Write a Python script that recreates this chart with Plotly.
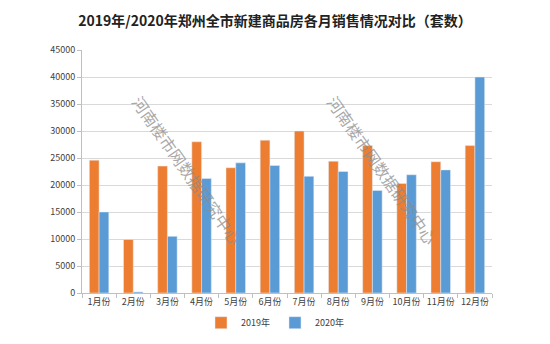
import plotly.graph_objects as go

months = ["1月份", "2月份", "3月份", "4月份", "5月份", "6月份", "7月份", "8月份", "9月份", "10月份", "11月份", "12月份"]
sales_2019 = [24600, 9900, 23500, 28000, 23200, 28300, 30000, 24400, 27300, 20300, 24300, 27300]
sales_2020 = [15000, 200, 10500, 21200, 24100, 23600, 21600, 22500, 19000, 21900, 22800, 40000]
y_ticks = [0, 5000, 10000, 15000, 20000, 25000, 30000, 35000, 40000, 45000]

font_cjk = "Noto Sans CJK SC, Microsoft YaHei, sans-serif"

fig = go.Figure()
fig.add_trace(go.Bar(x=months, y=sales_2019, name="2019年", marker_color="#ED7D31"))
fig.add_trace(go.Bar(x=months, y=sales_2020, name="2020年", marker_color="#5B9BD5"))

watermark = "河南楼市网数据研究中心"
for xp in [0.256, 0.732]:
    fig.add_annotation(text=watermark, xref="paper", yref="paper", x=xp, y=0.505,
                       xanchor="center", yanchor="middle",
                       showarrow=False, textangle=55,
                       font=dict(family=font_cjk, size=16, color="rgba(140,140,140,0.75)"))

fig.update_layout(
    width=550, height=344,
    margin=dict(l=82, r=58, t=50, b=51, autoexpand=False),
    paper_bgcolor="white", plot_bgcolor="white",
    barmode="group", bargap=0.43, bargroupgap=0,
    title=dict(text="2019年/2020年郑州全市新建商品房各月销售情况对比（套数）",
               x=0.5, xanchor="center", y=0.94, yanchor="middle",
               font=dict(family=font_cjk, size=14, color="#222222", weight="bold")),
    font=dict(family=font_cjk, size=9, color="#404040"),
    legend=dict(orientation="h", xref="container", yref="container",
                x=0.5, xanchor="center", y=0.062, yanchor="middle",
                font=dict(size=9, color="#404040"), itemwidth=30, tracegroupgap=0),
    showlegend=True,
)
fig.update_xaxes(showline=True, linecolor="#BFBFBF", linewidth=1, automargin=False,
                 ticks="outside", ticklen=4, tickcolor="#BFBFBF", tickangle=0,
                 tickson="boundaries", showgrid=False)
fig.update_yaxes(range=[0, 45000], tickvals=y_ticks, ticktext=[str(v) for v in y_ticks],
                 showline=True, linecolor="#BFBFBF", automargin=False,
                 ticks="outside", ticklen=4, tickcolor="#BFBFBF",
                 showgrid=True, gridcolor="#D9D9D9", gridwidth=1, zeroline=False)

fig.write_html("out.html")
